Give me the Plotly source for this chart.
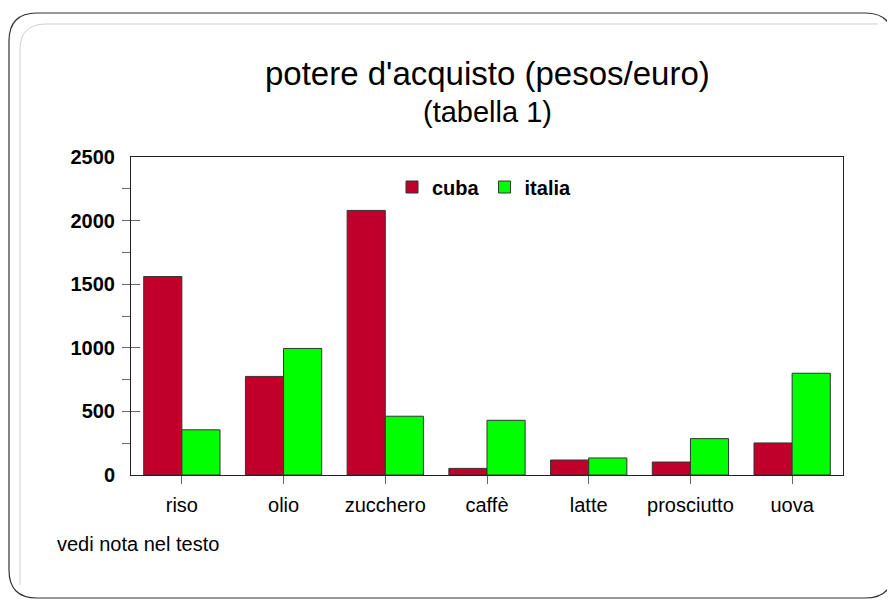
import plotly.graph_objects as go

categories = ["riso", "olio", "zucchero", "caffè", "latte", "prosciutto", "uova"]
cuba = [1560, 775, 2080, 52, 118, 102, 252]
italia = [355, 995, 462, 430, 134, 286, 800]
series_names = ["cuba", "italia"]

# page body has an 8px margin, so the figure is drawn 8px in from the window edge
OFF = 8
W, H = 895 - OFF, 601 - OFF
L, R, T, B = 131, 843, 157, 475  # plot area in window pixels

def px(x):
    return (x - L) / (R - L)

def py(y):
    return (B - y) / (B - T)

def rounded_path(x0, y0, x1, y1, r):
    pts = [
        f"M {px(x0 + r)} {py(y0)}",
        f"L {px(x1 - r)} {py(y0)}",
        f"Q {px(x1)} {py(y0)} {px(x1)} {py(y0 + r)}",
        f"L {px(x1)} {py(y1 - r)}",
        f"Q {px(x1)} {py(y1)} {px(x1 - r)} {py(y1)}",
        f"L {px(x0 + r)} {py(y1)}",
        f"Q {px(x0)} {py(y1)} {px(x0)} {py(y1 - r)}",
        f"L {px(x0)} {py(y0 + r)}",
        f"Q {px(x0)} {py(y0)} {px(x0 + r)} {py(y0)}",
        "Z",
    ]
    return " ".join(pts)

def highlight_path(x0, y0, x1, y1, r):
    pts = [
        f"M {px(x0)} {py(y1)}",
        f"L {px(x0)} {py(y0 + r)}",
        f"Q {px(x0)} {py(y0)} {px(x0 + r)} {py(y0)}",
        f"L {px(x1)} {py(y0)}",
    ]
    return " ".join(pts)

FONT = "Arial, 'Liberation Sans', sans-serif"

fig = go.Figure()
fig.add_trace(go.Bar(x=categories, y=cuba, name=series_names[0],
                     marker=dict(color="#C0002A", line=dict(color="#333333", width=1))))
fig.add_trace(go.Bar(x=categories, y=italia, name=series_names[1],
                     marker=dict(color="#00FF00", line=dict(color="#333333", width=1))))

fig.update_layout(
    width=W, height=H,
    margin=dict(l=L - OFF, r=W - (R - OFF), t=T - OFF, b=H - (B - OFF)),
    paper_bgcolor="white", plot_bgcolor="white",
    barmode="group", bargap=0.25, bargroupgap=0,
    font=dict(family=FONT, color="black"),
    showlegend=True,
    legend=dict(orientation="h", x=px(392), y=py(187), xanchor="left", yanchor="middle",
                font=dict(size=20, weight="bold", family=FONT), bgcolor="rgba(0,0,0,0)",
                itemwidth=30, traceorder="normal"),
    xaxis=dict(showline=True, linecolor="#222", linewidth=1, mirror=True,
               ticks="outside", ticklen=8, tickcolor="#666",
               tickfont=dict(size=20, family=FONT), ticklabelstandoff=4,
               showgrid=False, zeroline=False),
    yaxis=dict(range=[0, 2500], dtick=500, showline=True, linecolor="#222", linewidth=1,
               mirror=True, ticks="inside", ticklen=9, tickcolor="#666",
               minor=dict(dtick=250, ticks="outside", ticklen=8, tickcolor="#666"),
               tickfont=dict(size=20, family=FONT, weight="bold"), ticklabelstandoff=11,
               showgrid=False, zeroline=False),
    shapes=[
        dict(type="path", xref="paper", yref="paper",
             path=highlight_path(20, 24, 878, 585, 26),
             line=dict(color="#cfcfcf", width=1)),
        dict(type="path", xref="paper", yref="paper",
             path=rounded_path(9, 13, 893, 598, 28),
             line=dict(color="#333", width=1.2)),
    ],
    annotations=[
        dict(text="potere d'acquisto (pesos/euro)", xref="paper", yref="paper",
             x=px(487), y=py(74), xanchor="center", yanchor="middle", showarrow=False,
             font=dict(size=33, family=FONT)),
        dict(text="(tabella 1)", xref="paper", yref="paper",
             x=px(487), y=py(112), xanchor="center", yanchor="middle", showarrow=False,
             font=dict(size=29, family=FONT)),
        dict(text="vedi nota nel testo", xref="paper", yref="paper",
             x=px(55), y=py(544), xanchor="left", yanchor="middle", showarrow=False,
             font=dict(size=20, family=FONT)),
    ],
)

fig.write_html("out.html")
